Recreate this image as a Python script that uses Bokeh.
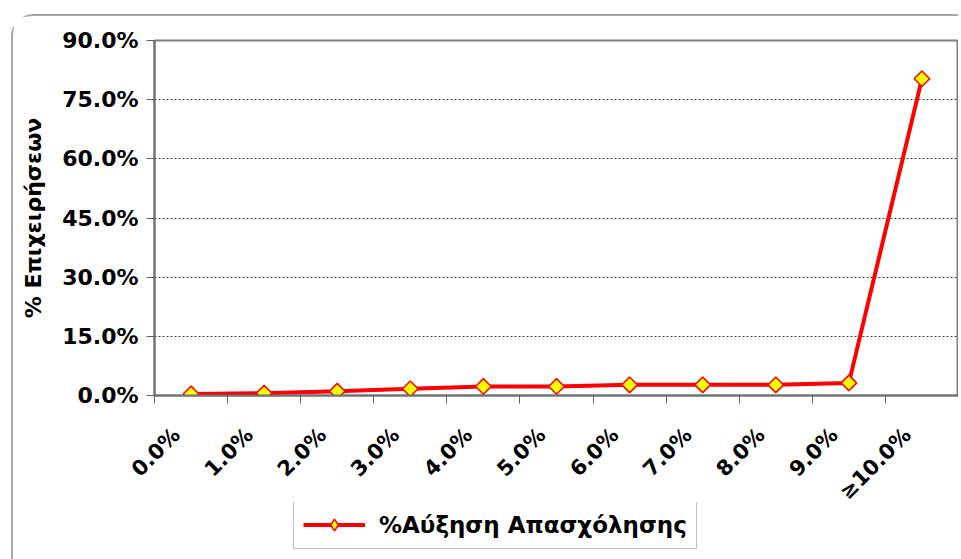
import math
from bokeh.plotting import figure
from bokeh.layouts import column
from bokeh.models import FixedTicker, PrintfTickFormatter, Legend, LegendItem, Range1d
from bokeh.embed import file_html
from bokeh.resources import INLINE

# ---- data ----
categories = ["0.0%", "1.0%", "2.0%", "3.0%", "4.0%", "5.0%", "6.0%",
              "7.0%", "8.0%", "9.0%", "≥10.0%"]
share = [0.4, 0.6, 1.1, 1.7, 2.3, 2.3, 2.7, 2.7, 2.7, 3.2, 80.3]
y_ticks = [0, 15, 30, 45, 60, 75, 90]
series_name = "%Αύξηση Απασχόλησης"
y_title = "% Επιχειρήσεων"

n = len(categories)
xpos = [i + 0.5 for i in range(n)]
label_pos = [i + 0.3 for i in range(n)]
bounds = list(range(n + 1))

FONT = "DejaVu Sans"
LINE = dict(line_color="#ff0000", line_width=4)
MARK = dict(marker="square", angle=math.pi / 4, size=11,
            fill_color="#ffff00", line_color="#ff0000", line_width=1.5)
KEY_MARK = dict(marker="diamond", size=18,
                fill_color="#ffff00", line_color="#ff0000", line_width=1.5)

W = 945
p = figure(width=W, height=505, output_backend="svg", toolbar_location=None,
           x_range=Range1d(0, n), y_range=Range1d(y_ticks[0], y_ticks[-1]),
           min_border_left=141, min_border_right=0, min_border_top=24,
           min_border_bottom=126)
p.background_fill_color = "white"
p.border_fill_color = "white"
p.outline_line_color = "#808080"
p.outline_line_width = 2

# x axis
xa = p.xaxis[0]
xa.ticker = FixedTicker(ticks=label_pos, minor_ticks=bounds)
xa.major_label_overrides = {xv: c for xv, c in zip(label_pos, categories)}
xa.major_label_orientation = math.pi / 4
xa.major_tick_out = 0
xa.major_tick_in = 0
xa.minor_tick_out = 8
xa.minor_tick_in = 0
xa.minor_tick_line_color = "#606060"
xa.minor_tick_line_width = 1
xa.axis_line_color = "#707070"
xa.axis_line_width = 2
xa.major_label_text_font = FONT
xa.major_label_text_font_style = "bold"
xa.major_label_text_font_size = "21px"
xa.major_label_text_color = "black"
xa.major_label_standoff = 28

# y axis
ya = p.yaxis[0]
ya.ticker = FixedTicker(ticks=y_ticks)
ya.formatter = PrintfTickFormatter(format="%.1f%%")
ya.major_tick_out = 8
ya.major_tick_in = 0
ya.major_tick_line_color = "#606060"
ya.minor_tick_out = 0
ya.minor_tick_in = 0
ya.axis_line_color = "#707070"
ya.axis_line_width = 2
ya.major_label_text_font = FONT
ya.major_label_text_font_style = "bold"
ya.major_label_text_font_size = "22px"
ya.major_label_text_color = "black"
ya.major_label_standoff = 8
ya.axis_label = y_title
ya.axis_label_text_font = FONT
ya.axis_label_text_font_style = "bold"
ya.axis_label_text_font_size = "22px"
ya.axis_label_text_color = "black"
ya.axis_label_standoff = 13

# grid
p.xgrid.visible = False
p.ygrid.ticker = FixedTicker(ticks=y_ticks)
p.ygrid.grid_line_color = "#404040"
p.ygrid.grid_line_dash = "2 2"
p.ygrid.grid_line_width = 1

# series
p.line(xpos, share, **LINE)
p.scatter(xpos, share, **MARK)

# legend strip below the chart (its key glyphs reuse the series, kept out of view)
pl = figure(width=W, height=57, output_backend="svg", toolbar_location=None,
            x_range=Range1d(0, n), y_range=Range1d(-2, -1),
            min_border_left=0, min_border_right=0, min_border_top=0,
            min_border_bottom=0)
pl.margin = (-19, 0, 0, 0)
pl.axis.visible = False
pl.grid.visible = False
pl.outline_line_color = None
pl.background_fill_alpha = 0
pl.border_fill_alpha = 0
k_line = pl.line(xpos, share, **LINE)
k_mark = pl.scatter(xpos, share, **KEY_MARK)
legend = Legend(items=[LegendItem(label=series_name, renderers=[k_line, k_mark])],
                location=(139, 10), orientation="horizontal",
                label_text_font=FONT, label_text_font_style="bold",
                label_text_font_size="23px", label_text_color="black",
                glyph_width=62, glyph_height=29, label_height=29,
                label_standoff=14, padding=9, margin=0,
                border_line_color="#7f7f7f", border_line_width=1,
                background_fill_color="white", background_fill_alpha=1)
pl.add_layout(legend)

layout = column(p, pl, spacing=0)
layout.margin = (14, 0, 0, 11)
layout.styles = {"border-top": "2px solid #a6a6a6", "border-left": "2px solid #a6a6a6",
                 "border-top-left-radius": "22px", "background": "white"}

open("out.html", "w").write(file_html(layout, INLINE))
